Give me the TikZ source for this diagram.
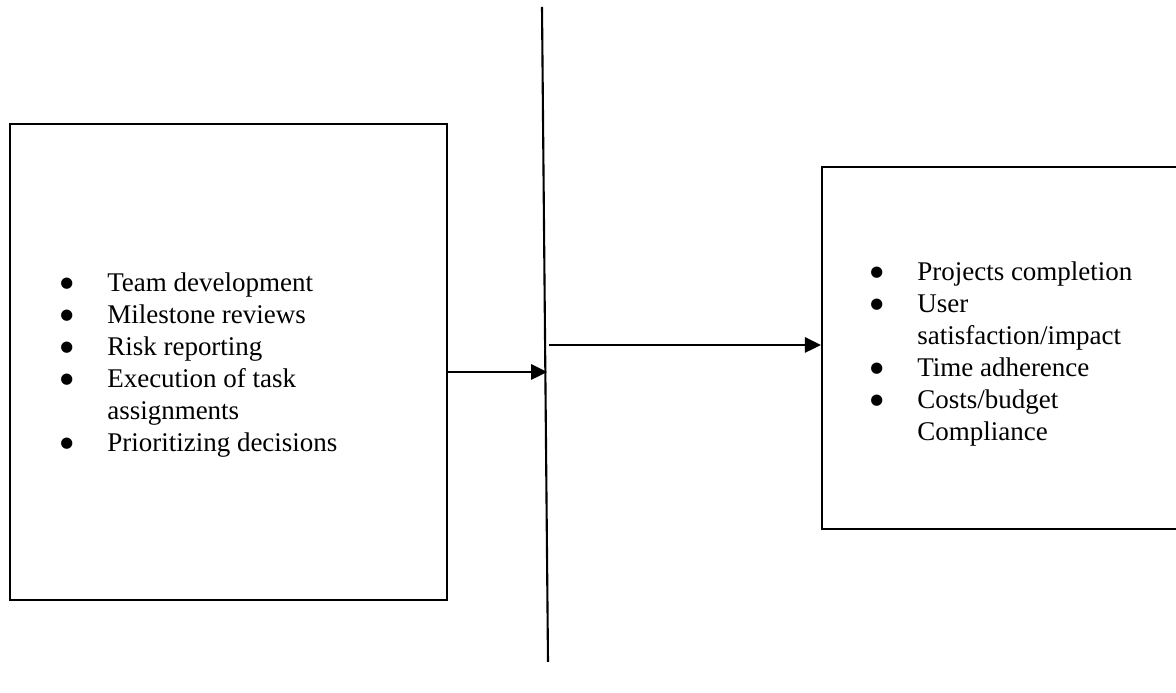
\documentclass[tikz,border=0pt]{standalone}
\usepackage{fontspec}
\setmainfont{Liberation Serif}
\newfontfamily\symfont{DejaVu Sans}
\usetikzlibrary{arrows.meta, positioning}
\newcommand{\blt}{\raisebox{0.1cm}{\fontsize{10.5}{10.5}\symfont ●}}

\begin{document}
\begin{tikzpicture}[
  arr/.style={-{Triangle[length=0.4cm, width=0.38cm]}, line width=1.5pt},
  box/.style={rectangle, draw, line width=1.5pt, inner sep=0pt},
  list/.style={anchor=base west, inner sep=0pt, font=\fontsize{19.2}{22.7}\selectfont}
]
\useasboundingbox (0,0) rectangle (29.4,17.325);

\node[box, minimum width=10.925cm, minimum height=11.9cm] (work)   at (5.7125, 8.275) {};
\node[box, minimum width=9.45cm,   minimum height=9.05cm] (result) at (25.275, 8.625) {};

\node[list] (worklist) at (1.5, 10.025) {\begin{tabular}[t]{@{}p{1.175cm}@{}l@{}}
  \blt & Team development\\
  \blt & Milestone reviews\\
  \blt & Risk reporting\\
  \blt & Execution of task\\
       & assignments\\
  \blt & Prioritizing decisions
\end{tabular}};
\node[list] (resultlist) at (21.75, 10.3) {\begin{tabular}[t]{@{}p{1.175cm}@{}l@{}}
  \blt & Projects completion\\
  \blt & User\\
       & satisfaction/impact\\
  \blt & Time adherence\\
  \blt & Costs/budget\\
       & Compliance
\end{tabular}};

\coordinate (top)    at (13.55, 17.15);
\coordinate (bottom) at (13.7, 0.775);
\coordinate (inlet)  at (13.68, 8.025);
\coordinate (outlet) at (13.72, 8.7);

\draw[line width=1.5pt] (top) -- (bottom);
\draw[arr] (work.east |- inlet) -- (inlet);
\draw[arr] (outlet) -- (result.west |- outlet);
\end{tikzpicture}
\end{document}
